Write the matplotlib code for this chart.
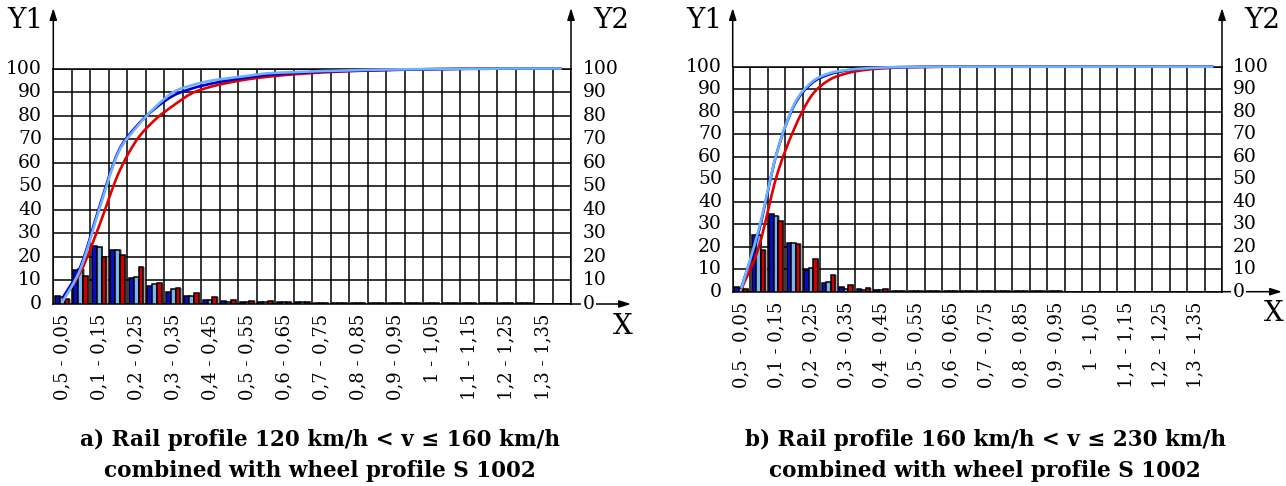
import numpy as np
import matplotlib
matplotlib.use("Agg")
import matplotlib.pyplot as plt
from matplotlib.path import Path
from matplotlib.patches import PathPatch

plt.rcParams["font.family"] = ["DejaVu Serif"]

W, H = 1286, 486

categories = [
    "0,5 - 0,05", "0,05 - 0,1", "0,1 - 0,15", "0,15 - 0,2", "0,2 - 0,25",
    "0,25 - 0,3", "0,3 - 0,35", "0,35 - 0,4", "0,4 - 0,45", "0,45 - 0,5",
    "0,5 - 0,55", "0,55 - 0,6", "0,6 - 0,65", "0,65 - 0,7", "0,7 - 0,75",
    "0,75 - 0,8", "0,8 - 0,85", "0,85 - 0,9", "0,9 - 0,95", "0,95 - 1",
    "1 - 1,05", "1,05 - 1,1", "1,1 - 1,15", "1,15 - 1,2", "1,2 - 1,25",
    "1,25 - 1,3", "1,3 - 1,35", "1,35 - 1,4",
]
y_ticks = [0, 10, 20, 30, 40, 50, 60, 70, 80, 90, 100]

# panel a) - frequency bars (%)
a_dark = [3.5, 14.5, 24.8, 22.9, 11.0, 7.8, 5.3, 3.4, 1.6, 1.3, 1.0, 1.0, 0.8, 0.7,
          0.6, 0.5, 0.5, 0.4, 0.4, 0.4, 0.4, 0.3, 0.3, 0.3, 0.3, 0.3, 0.0, 0.0]
a_light = [3.0, 14.8, 24.2, 23.1, 11.3, 8.4, 6.4, 3.2, 1.5, 1.0, 0.8, 1.0, 0.8, 0.7,
           0.6, 0.5, 0.5, 0.4, 0.4, 0.4, 0.3, 0.3, 0.3, 0.3, 0.3, 0.3, 0.0, 0.0]
a_red = [2.1, 11.8, 20.0, 21.0, 15.5, 8.8, 7.0, 4.5, 2.8, 1.8, 1.4, 1.2, 0.8, 0.7,
         0.6, 0.5, 0.5, 0.4, 0.4, 0.4, 0.3, 0.3, 0.3, 0.3, 0.3, 0.3, 0.0, 0.0]
# panel a) - cumulative curves (%)
a_cum_dark = [2.5, 16.5, 41.5, 64.5, 75.5, 83.0, 88.5, 91.5, 93.5, 95.0, 96.2, 97.2, 97.8, 98.3,
              98.6, 98.9, 99.1, 99.3, 99.5, 99.6, 99.7, 99.8, 99.9, 99.9, 100, 100, 100, 100]
a_cum_light = [1.0, 15.5, 40.6, 64.0, 75.0, 83.5, 90.0, 92.9, 94.8, 95.9, 96.9, 97.9, 98.3, 98.6,
               98.9, 99.1, 99.3, 99.5, 99.6, 99.7, 99.8, 99.8, 99.9, 99.9, 100, 100, 100, 100]
a_cum_red = [1.8, 14.0, 33.6, 55.0, 69.5, 78.2, 84.3, 89.5, 92.2, 94.0, 95.4, 96.4, 97.2, 97.8,
             98.3, 98.7, 99.0, 99.2, 99.4, 99.6, 99.7, 99.8, 99.9, 99.9, 100, 100, 100, 100]

# panel b) - frequency bars (%)
b_dark = [1.9, 25.0, 34.4, 21.5, 9.6, 3.7, 1.9, 1.2, 0.8, 0.5, 0.5, 0.5, 0.5, 0.4,
          0.4, 0.4, 0.4, 0.3, 0.3, 0.0, 0.0, 0.0, 0.0, 0.0, 0.0, 0.0, 0.0, 0.0]
b_light = [1.5, 25.0, 33.8, 21.8, 10.7, 4.3, 1.3, 0.7, 0.8, 0.5, 0.5, 0.5, 0.4, 0.4,
           0.4, 0.4, 0.3, 0.3, 0.3, 0.0, 0.0, 0.0, 0.0, 0.0, 0.0, 0.0, 0.0, 0.0]
b_red = [1.3, 18.5, 31.4, 21.0, 14.7, 7.3, 3.1, 1.8, 1.0, 0.5, 0.5, 0.5, 0.5, 0.4,
         0.4, 0.4, 0.4, 0.3, 0.3, 0.0, 0.0, 0.0, 0.0, 0.0, 0.0, 0.0, 0.0, 0.0]
# panel b) - cumulative curves (%)
b_cum_dark = [1.9, 27.0, 61.0, 82.5, 92.5, 96.5, 98.3, 99.2, 99.6, 99.8, 99.9, 100, 100, 100,
              100, 100, 100, 100, 100, 100, 100, 100, 100, 100, 100, 100, 100, 100]
b_cum_light = [1.5, 28.0, 61.0, 83.0, 93.0, 97.0, 98.5, 99.2, 99.6, 99.8, 99.9, 100, 100, 100,
               100, 100, 100, 100, 100, 100, 100, 100, 100, 100, 100, 100, 100, 100]
b_cum_red = [1.3, 20.0, 51.0, 72.0, 87.0, 94.0, 97.0, 98.5, 99.2, 99.6, 99.8, 99.9, 100, 100,
             100, 100, 100, 100, 100, 100, 100, 100, 100, 100, 100, 100, 100, 100]

titles = [
    ("a) Rail profile 120 km/h < v ≤ 160 km/h", "combined with wheel profile S 1002"),
    ("b) Rail profile 160 km/h < v ≤ 230 km/h", "combined with wheel profile S 1002"),
]

BAR_COLORS = ["#0a0ac4", "#7ab6ee", "#d00000"]
LINE_COLORS = ["#e00000", "#0000d0", "#6fb0ff"]


def smooth_path(x, y):
    # Catmull-Rom through the points, expressed as cubic Bezier segments
    pts = np.column_stack([x, y]).astype(float)
    verts = [pts[0]]
    codes = [Path.MOVETO]
    n = len(pts)
    for i in range(n - 1):
        p0 = pts[max(i - 1, 0)]
        p1 = pts[i]
        p2 = pts[i + 1]
        p3 = pts[min(i + 2, n - 1)]
        verts += [p1 + (p2 - p0) / 6, p2 - (p3 - p1) / 6, p2]
        codes += [Path.CURVE4] * 3
    return Path(verts, codes)


def draw_panel(ax, bars, curves, box_px):
    x0, x1, ybot, ytop = box_px
    n = len(categories)
    idx = np.arange(n)
    width = 0.26
    offsets = [0.22, 0.48, 0.74]

    for vals, off in zip(bars, offsets):
        ax.bar(idx + off + 0.08, vals, width, color="#a8a8a8", zorder=2, linewidth=0)
    for vals, off, col in zip(bars, offsets, BAR_COLORS):
        ax.bar(idx + off, vals, width, color=col, edgecolor="black", linewidth=1.1, zorder=3)

    for vals, col in zip(curves, LINE_COLORS):
        ax.add_patch(PathPatch(smooth_path(idx + 0.5, vals), fill=False,
                               edgecolor=col, linewidth=1.9, zorder=5, clip_on=False))

    ax.set_xlim(0, n)
    ax.set_ylim(0, 100)
    ax.set_xticks(np.arange(n + 1), minor=True)
    ax.set_yticks(y_ticks)
    ax.set_xticks(idx[::2] + 0.5)
    ax.set_xticklabels(categories[::2], rotation=90, va="top", ha="center", fontsize=13)
    ax.set_yticklabels([])
    ax.tick_params(which="both", length=0)
    ax.tick_params(axis="x", pad=7)
    ax.grid(True, which="minor", axis="x", color="black", linewidth=1.1, zorder=0)
    ax.grid(True, which="major", axis="y", color="black", linewidth=1.1, zorder=0)
    ax.set_axisbelow(True)
    for side in ["left", "right", "bottom", "top"]:
        ax.spines[side].set_linewidth(1.1)

    # value labels on both sides; the right ones sit on top of the X arrow line
    for v in y_ticks:
        ax.text(-0.022, v, str(v), transform=ax.get_yaxis_transform(),
                ha="right", va="center", fontsize=13.5)
        ax.text(1.022, v, str(v), transform=ax.get_yaxis_transform(),
                ha="left", va="center", fontsize=13.5, zorder=6,
                bbox=dict(facecolor="white", edgecolor="none", pad=1))

    h = ybot - ytop
    w = x1 - x0
    tip = 1 + (ytop - 8) / h
    arrow = dict(arrowstyle="-|>,head_length=0.7,head_width=0.22", color="black",
                 linewidth=1.1, shrinkA=0, shrinkB=0)
    for xf in (0, 1):
        ax.annotate("", xy=(xf, tip), xytext=(xf, 1), xycoords="axes fraction",
                    arrowprops=arrow, annotation_clip=False)
    xtip = 1 + 60 / w
    ax.annotate("", xy=(xtip, 0), xytext=(1, 0), xycoords="axes fraction",
                arrowprops=arrow, annotation_clip=False, zorder=1)


fig = plt.figure(figsize=(W / 100, H / 100), dpi=100)

panels = [
    ((53.3, 571.0, 304.0, 68.5), [a_dark, a_light, a_red], [a_cum_red, a_cum_dark, a_cum_light]),
    ((732.7, 1222.0, 291.7, 66.7), [b_dark, b_light, b_red], [b_cum_red, b_cum_dark, b_cum_light]),
]

for (box, bars, curves), (t1, t2) in zip(panels, titles):
    x0, x1, ybot, ytop = box
    ax = fig.add_axes([x0 / W, 1 - ybot / H, (x1 - x0) / W, (ybot - ytop) / H])
    draw_panel(ax, bars, curves, box)
    fig.text((x0 - 28) / W, 1 - 20 / H, "Y1", fontsize=20, ha="center", va="center")
    fig.text((x1 + 40) / W, 1 - 20 / H, "Y2", fontsize=20, ha="center", va="center")
    fig.text((x1 + 52) / W, 1 - (ybot + 22) / H, "X", fontsize=20, ha="center", va="center")
    cx = (x0 + x1) / 2 + 8
    fig.text(cx / W, 1 - 440 / H, t1, fontsize=15.5, fontweight="bold", ha="center", va="center")
    fig.text(cx / W, 1 - 471 / H, t2, fontsize=15.5, fontweight="bold", ha="center", va="center")

fig.savefig("out.png", dpi=100)
